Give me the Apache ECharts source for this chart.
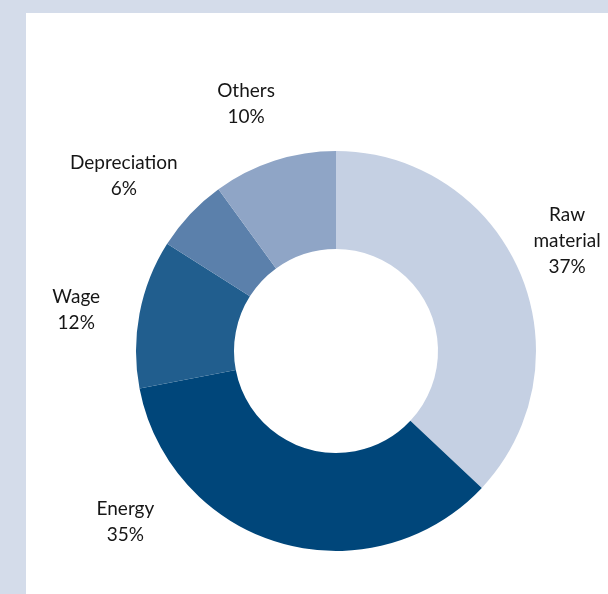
<!DOCTYPE html>
<html><head><meta charset="utf-8">
<script src="https://cdn.jsdelivr.net/npm/echarts@6/dist/echarts.min.js"></script>
<style>html,body{margin:0;padding:0;background:#d4dcea}#c{width:608px;height:594px}</style>
</head><body><div id="c"></div>
<script>
const categories = ["Raw material", "Energy", "Wage", "Depreciation", "Others"];
const labelTexts = ["Raw\nmaterial", "Energy", "Wage", "Depreciation", "Others"];
const values = [37, 35, 12, 6, 10];
const colors = ["#c5d0e3", "#00467a", "#215e8e", "#5b80ab", "#8fa5c6"];
// label placement: angle (deg clockwise from top) and distance from centre
const labelAngles = [64.5, 231, 279, 309.5, 340];
const labelDist = [256, 271, 263, 275, 263];

const cx = 336, cy = 351;
const chart = echarts.init(document.getElementById('c'), null, {renderer: 'canvas'});
chart.setOption({
  backgroundColor: '#d4dcea',
  animation: false,
  graphic: [{type: 'rect', left: 26, top: 13, shape: {width: 582, height: 581}, style: {fill: '#ffffff'}, z: -1}],
  series: [{
    type: 'pie',
    center: [cx, cy],
    radius: [102, 200],
    startAngle: 90,
    clockwise: true,
    avoidLabelOverlap: false,
    data: categories.map((c, i) => ({name: c, value: values[i], itemStyle: {color: colors[i]}})),
    label: {
      show: true,
      position: 'outside',
      formatter: p => labelTexts[p.dataIndex] + '\n' + p.value + '%',
      fontFamily: 'Lato',
      fontSize: 19,
      lineHeight: 26,
      color: '#161616',
      align: 'center'
    },
    labelLine: {show: false},
    labelLayout: function (p) {
      const i = p.dataIndex;
      const a = labelAngles[i] * Math.PI / 180;
      return {
        x: cx + labelDist[i] * Math.sin(a),
        y: cy - labelDist[i] * Math.cos(a),
        align: 'center',
        verticalAlign: 'middle'
      };
    }
  }]
});
</script></body></html>
